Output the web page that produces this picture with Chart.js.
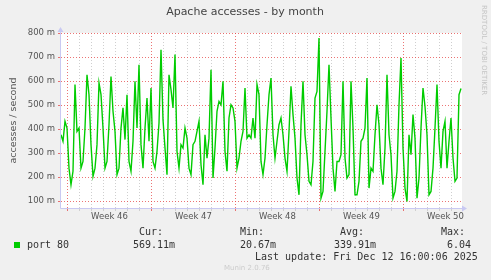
<!DOCTYPE html>
<html>
<head>
<meta charset="utf-8">
<script src="https://cdn.jsdelivr.net/npm/chart.js@4.4.1/dist/chart.umd.min.js"></script>
<style>
  html,body{margin:0;padding:0;background:#f0f0f0}
</style>
</head>
<body>
<canvas id="myChart" width="491" height="280"></canvas>
<script>
// one sample every 4 hours, values in milli-accesses per second
const stepHours = 4
const accesses = [
  376,349,432,404,237,168,224,585,390,404,237,265,404,626,543,335,203,237,335,592,543,404,237,265,418,619,474,390,210,
  237,404,488,356,543,265,224,349,599,404,668,335,237,404,529,349,571,265,237,307,425,730,439,321,210,626,564,488,710,
  307,237,335,321,404,362,237,210,335,349,390,432,251,168,376,279,362,647,196,321,474,515,501,599,307,224,446,501,488,
  432,237,279,349,390,571,362,376,362,446,362,585,543,265,210,279,418,543,612,376,279,349,418,446,376,279,224,390,578,
  460,362,196,126,418,599,376,293,182,168,265,529,557,779,112,140,307,474,668,446,237,140,265,265,293,599,279,196,210,
  599,404,126,126,182,349,362,404,612,154,237,224,376,501,418,237,168,321,626,376,293,112,140,224,501,696,321,154,98,
  376,293,460,362,112,196,404,571,494,376,126,140,237,404,585,349,237,390,432,237,349,446,279,182,196,543,569
]
const weekLabels = ['Week 46','Week 47','Week 48','Week 49','Week 50']
const yTicks = [100,150,200,250,300,350,400,450,500,550,600,650,700,750,800]
const statLabels = ['Cur:','Min:','Avg:','Max:']
const statValues = ['569.11m','20.67m','339.91m','6.04']
const seriesName = 'port 80'
const lastUpdate = 'Last update: Fri Dec 12 16:00:06 2025'

const firstMonday = 13   // hours from left edge of graph
const spanHours = 802
const hours = accesses.map((v, i) => i * stepHours)

const RED = 'rgba(230,70,70,0.75)'
const GRAY = '#cfcfcf'
const AXIS = '#c9c9f2'
const NONE = 'rgba(0,0,0,0)'

const dayLine = h => h >= firstMonday && (h - firstMonday) % 24 === 0
const weekLine = h => h >= firstMonday && (h - firstMonday) % 168 === 0
const weekIdx = h => (h - firstMonday - 84) % 168 === 0 ? (h - firstMonday - 84) / 168 : -1
const xLineColor = h => weekLine(h) ? RED : dayLine(h) ? GRAY : NONE

const muninPlugin = {
  id: 'munin',
  beforeDraw(chart) {
    const {ctx, chartArea: a} = chart
    ctx.save()
    ctx.fillStyle = '#f0f0f0'
    ctx.fillRect(0, 0, chart.width, chart.height)
    ctx.fillStyle = '#fff'
    ctx.fillRect(a.left, a.top, a.right - a.left, a.bottom - a.top)
    ctx.restore()
  },
  afterDraw(chart) {
    const {ctx, chartArea: a} = chart
    ctx.save()
    // solid axes + arrows
    ctx.setLineDash([])
    ctx.strokeStyle = AXIS
    ctx.lineWidth = 1
    ctx.beginPath()
    ctx.moveTo(a.left - 0.5, a.top - 2); ctx.lineTo(a.left - 0.5, a.bottom + 0.5)
    ctx.lineTo(a.right + 2, a.bottom + 0.5)
    ctx.stroke()
    ctx.fillStyle = AXIS
    ctx.beginPath()
    ctx.moveTo(a.left - 3.5, a.top - 1); ctx.lineTo(a.left + 2.5, a.top - 1); ctx.lineTo(a.left - 0.5, a.top - 6)
    ctx.fill()
    ctx.beginPath()
    ctx.moveTo(a.right, a.bottom - 2.5); ctx.lineTo(a.right, a.bottom + 3.5); ctx.lineTo(a.right + 5, a.bottom + 0.5)
    ctx.fill()

    ctx.textBaseline = 'middle'
    ctx.fillStyle = '#444'
    ctx.font = '11px "DejaVu Sans"'
    ctx.textAlign = 'center'
    ctx.fillText('Apache accesses - by month', 245, 12)

    ctx.save()
    ctx.translate(484, 5)
    ctx.rotate(Math.PI / 2)
    ctx.textAlign = 'left'
    ctx.fillStyle = '#c4c4c4'
    ctx.font = '7px "DejaVu Sans"'
    ctx.fillText('RRDTOOL / TOBI OETIKER', 0, 0)
    ctx.restore()

    ctx.textAlign = 'left'
    ctx.fillStyle = '#00cc00'
    ctx.fillRect(14, 242, 6, 6)
    ctx.fillStyle = '#333'
    ctx.font = '10px "DejaVu Sans Mono"'
    ctx.fillText(seriesName, 27, 245)
    const headX = [139, 240, 340, 441]
    const valX = [133, 240, 334, 447]
    statLabels.forEach((s, i) => {
      ctx.fillText(s, headX[i], 232)
      ctx.fillText(statValues[i], valX[i], 245)
    })
    ctx.fillText(lastUpdate, 255, 257)

    ctx.fillStyle = '#cccccc'
    ctx.font = '7px "DejaVu Sans"'
    ctx.fillText('Munin 2.0.76', 224, 268)
    ctx.restore()
  }
}

const ctx = document.getElementById('myChart')
new Chart(ctx, {
  type: 'line',
  data: {
    datasets: [{
      label: seriesName,
      data: accesses.map((v, i) => ({x: hours[i], y: v})),
      borderColor: '#00cc00',
      borderWidth: 1.4,
      pointRadius: 0,
      tension: 0,
      fill: false
    }]
  },
  options: {
    responsive: false,
    animation: false,
    devicePixelRatio: 1,
    layout: {padding: {top: 33, right: 29, bottom: 56, left: 0}},
    plugins: {legend: {display: false}, title: {display: false}, tooltip: {enabled: false}},
    scales: {
      x: {
        type: 'linear',
        min: 0,
        max: spanHours,
        afterFit: s => { s.height = 16 },
        afterBuildTicks: s => {
          const t = []
          for (let h = firstMonday % 12; h <= spanHours; h += 12) t.push({value: h})
          s.ticks = t
        },
        grid: {
          color: c => xLineColor(c.tick.value),
          tickColor: c => xLineColor(c.tick.value),
          tickLength: 3,
          lineWidth: 1
        },
        border: {display: false, dash: [1, 2]},
        ticks: {
          autoSkip: false,
          maxRotation: 0,
          padding: 1,
          color: '#555',
          font: {family: 'DejaVu Sans', size: 8.5},
          callback: v => weekIdx(v) >= 0 ? weekLabels[weekIdx(v)] : ''
        }
      },
      y: {
        min: 71,
        max: 800,
        afterFit: s => { s.width = 61 },
        afterBuildTicks: s => { s.ticks = yTicks.map(v => ({value: v})) },
        grid: {
          color: c => c.tick.value % 100 === 0 ? RED : GRAY,
          tickColor: c => c.tick.value % 100 === 0 ? RED : GRAY,
          tickLength: 3,
          lineWidth: 1
        },
        border: {display: false, dash: [1, 2]},
        title: {
          display: true,
          text: 'accesses / second',
          color: '#555',
          font: {family: 'DejaVu Sans', size: 9.5},
          padding: {top: 8, bottom: 0}
        },
        ticks: {
          padding: 3,
          color: '#555',
          font: {family: 'DejaVu Sans', size: 8.5},
          callback: v => v % 100 === 0 ? v + ' m' : ''
        }
      }
    }
  },
  plugins: [muninPlugin]
})
</script>
</body>
</html>
